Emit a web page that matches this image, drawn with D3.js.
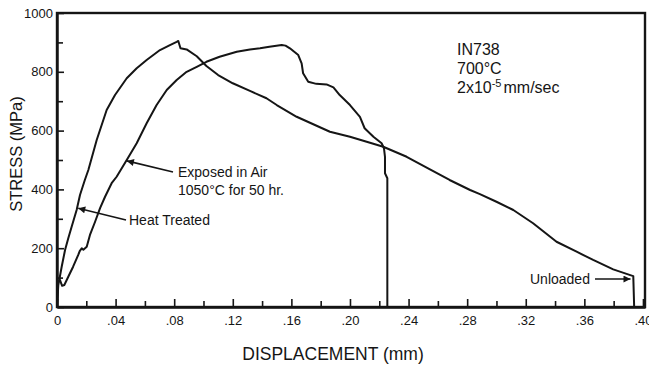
<!DOCTYPE html>
<html>
<head>
<meta charset="utf-8">
<script src="https://cdn.jsdelivr.net/npm/d3@7"></script>
<style>
  body { margin: 0; background: #fff; }
  svg { font-family: "Liberation Sans", Arial, Helvetica, sans-serif; }
</style>
</head>
<body>
<svg id="chart" width="649" height="366"></svg>
<script>
// displacement (mm), stress (MPa)
var heatTreated = [
  [0,0],[0.0009,75],[0.0032,137],[0.0055,194],[0.0077,234],[0.010,273],[0.0134,330],
  [0.0157,381],[0.019,432],[0.0214,466],[0.0271,568],[0.0339,670],[0.0396,721],
  [0.0476,778],[0.0544,812],[0.0612,840],[0.0703,874],[0.0771,891],[0.0817,902],
  [0.0828,905],[0.0843,880],[0.0885,876],[0.0954,853],[0.102,820],[0.110,789],
  [0.120,761],[0.1317,735],[0.143,710],[0.150,687],[0.1636,647],[0.1863,596],
  [0.200,579],[0.2114,562],[0.2227,545],[0.2387,511],[0.2546,468],[0.268,432],
  [0.282,398],[0.2887,384],[0.300,358],[0.3115,330],[0.325,285],[0.341,222],
  [0.3547,188],[0.366,160],[0.3797,128],[0.3934,105],[0.394,0]
];

var exposedInAir = [
  [0,0],[0.0003,60],[0.0008,85],[0.002,92],[0.0035,72],[0.005,75],[0.0077,103],
  [0.011,137],[0.0145,177],[0.0155,190],[0.0169,200],[0.018,195],[0.0203,205],
  [0.0225,245],[0.026,290],[0.0294,336],[0.0328,375],[0.0373,421],[0.0407,443],
  [0.0476,500],[0.0544,557],[0.0612,625],[0.068,687],[0.0749,738],[0.0817,772],
  [0.0885,800],[0.0954,817],[0.102,834],[0.111,851],[0.1227,868],[0.1317,876],
  [0.1386,880],[0.145,885],[0.1534,891],[0.156,889],[0.159,880],[0.1647,857],
  [0.167,829],[0.168,795],[0.1715,766],[0.177,759],[0.184,757],[0.1887,747],
  [0.193,721],[0.200,687],[0.2068,647],[0.210,608],[0.216,579],[0.2216,557],
  [0.2232,540],[0.2239,511],[0.2239,455],[0.2255,438],[0.2255,0]
];

var xMajorTicks = [0, 0.04, 0.08, 0.12, 0.16, 0.20, 0.24, 0.28, 0.32, 0.36, 0.40];
var xMinorTicks = [0.02, 0.06, 0.10, 0.14, 0.18, 0.22, 0.26, 0.30, 0.34, 0.38];
var yMajorTicks = [0, 200, 400, 600, 800, 1000];
var yMinorTicks = [100, 300, 500, 700, 900];

var svg = d3.select("#chart");
var ink = "#151515";

var x = d3.scaleLinear().domain([0, 0.4014]).range([57, 645]);
var y = d3.scaleLinear().domain([0, 1000]).range([307, 13]);

// frame
svg.append("rect")
  .attr("x", x(0)).attr("y", y(1000))
  .attr("width", x(0.4014) - x(0)).attr("height", y(0) - y(1000))
  .attr("fill", "none").attr("stroke", ink).attr("stroke-width", 2.4);

var fmtX = d => d === 0 ? "0" : d3.format(".2f")(d).replace(/^0/, "");

// bottom axis, ticks pointing in
svg.append("g")
  .attr("transform", "translate(0," + y(0) + ")")
  .call(d3.axisBottom(x).tickValues(xMajorTicks).tickFormat(fmtX)
        .tickSizeInner(-8).tickSizeOuter(0).tickPadding(9));
svg.append("g")
  .attr("transform", "translate(0," + y(0) + ")")
  .call(d3.axisBottom(x).tickValues(xMinorTicks).tickFormat("")
        .tickSizeInner(-6).tickSizeOuter(0))
  .select(".domain").remove();

svg.append("g")
  .attr("transform", "translate(" + x(0) + ",0)")
  .call(d3.axisLeft(y).tickValues(yMajorTicks).tickFormat(d => String(d))
        .tickSizeInner(-7).tickSizeOuter(0).tickPadding(4));
svg.append("g")
  .attr("transform", "translate(" + x(0) + ",0)")
  .call(d3.axisLeft(y).tickValues(yMinorTicks).tickFormat("")
        .tickSizeInner(-6).tickSizeOuter(0))
  .select(".domain").remove();

svg.selectAll(".domain").attr("stroke", ink).attr("stroke-width", 2.4);
svg.selectAll(".tick line").attr("stroke", ink).attr("stroke-width", 1.6);
svg.selectAll(".tick text")
  .attr("fill", ink)
  .style("font-size", "13px")
  .style("font-family", "'Liberation Sans', Arial, sans-serif");

// axis titles
svg.append("text")
  .attr("x", 333).attr("y", 360)
  .attr("text-anchor", "middle")
  .attr("fill", ink)
  .style("font-size", "17.5px")
  .text("DISPLACEMENT (mm)");

svg.append("text")
  .attr("transform", "translate(22,154) rotate(-90)")
  .attr("text-anchor", "middle")
  .attr("fill", ink)
  .style("font-size", "16.5px")
  .text("STRESS (MPa)");

// curves
var line = d3.line().x(d => x(d[0])).y(d => y(d[1]));

[heatTreated, exposedInAir].forEach(function(series) {
  svg.append("path")
    .datum(series)
    .attr("d", line)
    .attr("fill", "none")
    .attr("stroke", ink)
    .attr("stroke-width", 2)
    .attr("stroke-linejoin", "round");
});

// arrowheads
svg.append("defs").append("marker")
  .attr("id", "head")
  .attr("viewBox", "0 0 10 10")
  .attr("refX", 10).attr("refY", 5)
  .attr("markerWidth", 12).attr("markerHeight", 7)
  .attr("markerUnits", "userSpaceOnUse")
  .attr("orient", "auto")
  .append("path")
  .attr("d", "M0,0 L10,5 L0,10 Z")
  .attr("fill", ink);

function arrow(x1, y1, x2, y2) {
  svg.append("line")
    .attr("x1", x1).attr("y1", y1).attr("x2", x2).attr("y2", y2)
    .attr("stroke", ink).attr("stroke-width", 1.6)
    .attr("marker-end", "url(#head)");
}

arrow(173, 172, x(0.0477), y(497));
arrow(126, 220, x(0.0145), y(336));
arrow(595, 279, x(0.3915), y(95));

function label(tx, ty, str, size) {
  return svg.append("text")
    .attr("x", tx).attr("y", ty)
    .attr("fill", ink)
    .style("font-size", size || "14px")
    .text(str);
}

label(178, 177, "Exposed in Air");
label(178, 195, "1050°C for 50 hr.");
label(129, 225, "Heat Treated");
label(530, 284, "Unloaded");

label(457, 55, "IN738", "16px");
label(457, 74, "700°C", "16px");
var rate = label(457, 93, "2x10", "16px");
rate.append("tspan").attr("dy", -6).style("font-size", "11px").text("-5");
rate.append("tspan").attr("dy", 6).attr("dx", 2).text("mm/sec");
</script>
</body>
</html>
